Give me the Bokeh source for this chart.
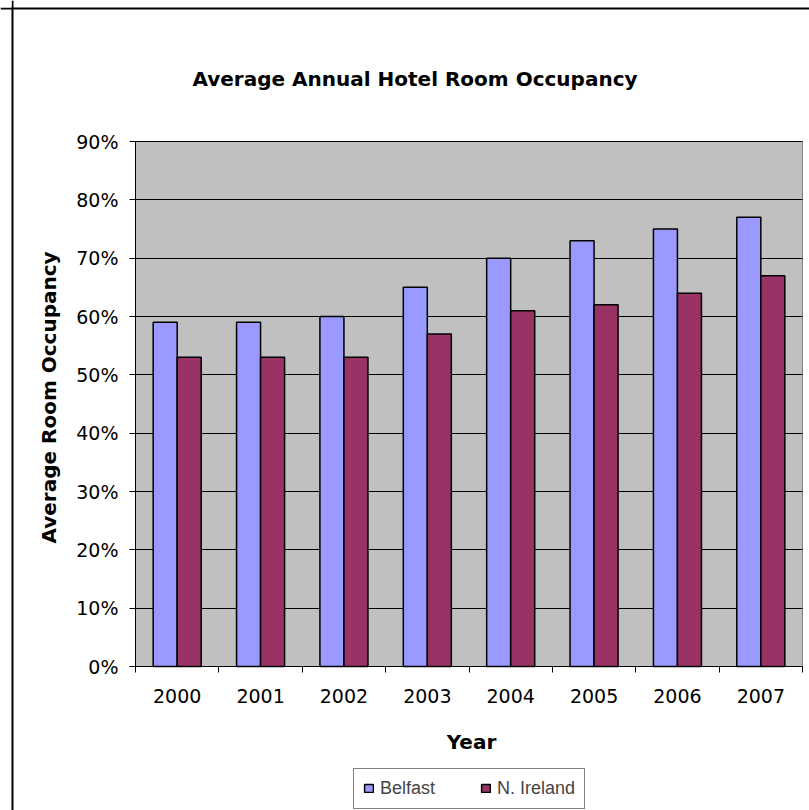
import math
from bokeh.plotting import figure
from bokeh.models import (ColumnDataSource, Range1d, FixedTicker, NumeralTickFormatter,
                          Label, BoxAnnotation, Span, Legend, LegendItem, Grid)
from bokeh.transform import dodge
from bokeh.embed import file_html
from bokeh.resources import INLINE

years = ["2000", "2001", "2002", "2003", "2004", "2005", "2006", "2007"]
belfast = [0.59, 0.59, 0.60, 0.65, 0.70, 0.73, 0.75, 0.77]
n_ireland = [0.53, 0.53, 0.53, 0.57, 0.61, 0.62, 0.64, 0.67]
y_ticks = [0.0, 0.1, 0.2, 0.3, 0.4, 0.5, 0.6, 0.7, 0.8, 0.9]

FONT = "DejaVu Sans"
BAR_W = 0.288

# page layout (pixels): the plot area sits inside a full-canvas frame
W, H = 809, 810
PLOT_L, PLOT_R, PLOT_T, PLOT_B = 135, 802, 141, 666
N = len(years)
YMAX = y_ticks[-1]
xs = (PLOT_R - PLOT_L) / N
ys = (PLOT_B - PLOT_T) / YMAX


def dx(px):
    return (px - PLOT_L) / xs


def dy(py):
    return (PLOT_B - py) / ys


pos = [i + 0.5 for i in range(N)]
src = ColumnDataSource(dict(pos=pos, year=years, belfast=belfast, nireland=n_ireland))

p = figure(width=W, height=H, output_backend="svg", toolbar_location=None, title=None,
           x_range=Range1d(dx(0), dx(W)), y_range=Range1d(dy(H), dy(0)),
           min_border=0, background_fill_color="white", border_fill_color="white",
           outline_line_color=None)

# grey plot area
p.add_layout(BoxAnnotation(left=0, right=N, bottom=0, top=YMAX, level="image",
                           fill_color="#C0C0C0", fill_alpha=1,
                           line_color="#808080", line_alpha=1, line_width=1))

# chart border: left and top edges only (the rest runs past the page)
bx0, by0 = 12, 8
p.add_layout(Span(location=dx(bx0), dimension="height", line_color="black", line_width=2))
p.add_layout(Span(location=dy(by0), dimension="width", line_color="black", line_width=2))
# blank out the corner beyond the border's top-left
p.add_layout(BoxAnnotation(left=dx(-5), right=dx(bx0 - 1), top=dy(-5), bottom=dy(by0 - 1),
                           fill_color="white", fill_alpha=1, line_alpha=0, level="overlay"))

r1 = p.vbar(x=dodge("pos", -BAR_W / 2, range=p.x_range), top="belfast", width=BAR_W,
            source=src, fill_color="#9999FF", line_color="black", line_width=1.5)
r2 = p.vbar(x=dodge("pos", BAR_W / 2, range=p.x_range), top="nireland", width=BAR_W,
            source=src, fill_color="#993366", line_color="black", line_width=1.5)

# x axis: labels at category centres, short ticks at category boundaries
xa = p.xaxis[0]
xa.fixed_location = 0
xa.bounds = (0, N)
xa.ticker = FixedTicker(ticks=pos, minor_ticks=list(range(N + 1)))
xa.major_label_overrides = {pp: y for pp, y in zip(pos, years)}
xa.major_tick_out = 0
xa.major_tick_in = 0
xa.minor_tick_out = 6
xa.minor_tick_in = 0
xa.minor_tick_line_color = "black"
xa.axis_line_color = "black"
xa.major_label_text_font = FONT
xa.major_label_text_font_size = "19px"
xa.major_label_text_color = "black"
xa.major_label_standoff = 16

ya = p.yaxis[0]
ya.fixed_location = 0
ya.bounds = (0, YMAX)
ya.ticker = FixedTicker(ticks=y_ticks)
ya.formatter = NumeralTickFormatter(format="0%")
ya.major_tick_out = 6
ya.major_tick_in = 0
ya.minor_tick_out = 0
ya.minor_tick_in = 0
ya.major_tick_line_color = "black"
ya.axis_line_color = "black"
ya.major_label_text_font = FONT
ya.major_label_text_font_size = "19px"
ya.major_label_text_color = "black"
ya.major_label_standoff = 11

p.xgrid.visible = False
yg = p.ygrid[0]
yg.ticker = FixedTicker(ticks=y_ticks)
yg.bounds = (0, YMAX)
yg.grid_line_color = "black"
yg.grid_line_width = 1
if "cross_bounds" in Grid.properties():
    yg.cross_bounds = (0, N)
else:
    yg.visible = False
    p.segment(x0=[0] * len(y_ticks[1:-1]), x1=[N] * len(y_ticks[1:-1]),
              y0=y_ticks[1:-1], y1=y_ticks[1:-1], line_color="black", line_width=1,
              level="underlay")

p.add_layout(Label(x=dx(414.5), y=dy(78), text="Average Annual Hotel Room Occupancy",
                   text_align="center", text_baseline="alphabetic", text_font=FONT,
                   text_font_style="bold", text_font_size="20px", text_color="black"))
p.add_layout(Label(x=dx(471), y=dy(741), text="Year",
                   text_align="center", text_baseline="alphabetic", text_font=FONT,
                   text_font_style="bold", text_font_size="20px", text_color="black"))
p.add_layout(Label(x=dx(48), y=dy(397), text="Average Room Occupancy", angle=math.pi / 2,
                   text_align="center", text_baseline="middle", text_font=FONT,
                   text_font_style="bold", text_font_size="20px", text_color="black"))

legend = Legend(items=[LegendItem(label="Belfast", renderers=[r1]),
                       LegendItem(label="N. Ireland", renderers=[r2])],
                orientation="horizontal", location=(353, H - 808.5),
                label_text_font="Liberation Sans", label_text_font_size="18px",
                glyph_width=11, glyph_height=10, label_standoff=6,
                spacing=45, padding=9, margin=0,
                border_line_color="black", border_line_width=1.5,
                background_fill_color="white", background_fill_alpha=1)
p.add_layout(legend)

open("out.html", "w").write(file_html(p, INLINE))
